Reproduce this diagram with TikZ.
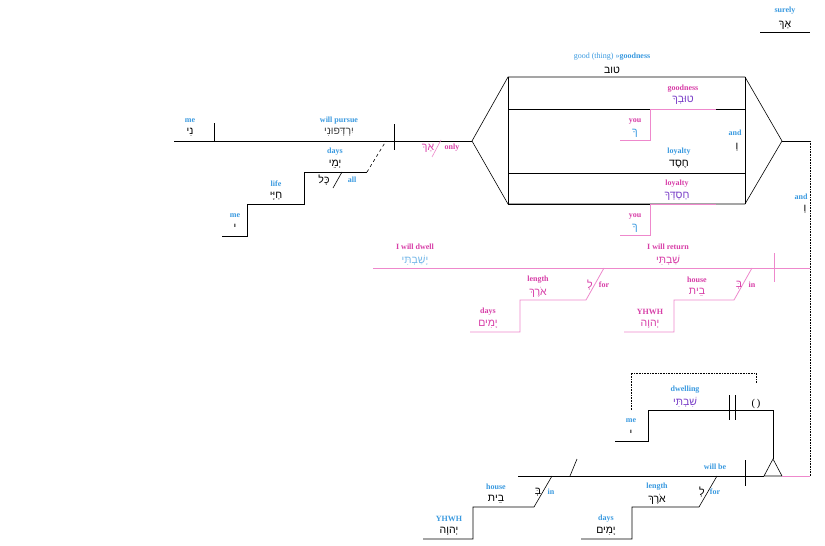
\documentclass[tikz,border=0pt]{standalone}
\usepackage{fontspec}
\setmainfont{Liberation Serif}
\newfontfamily\heb[Script=Hebrew]{Liberation Sans}
\TeXXeTstate=1
\newcommand{\hb}[1]{{\heb\beginR #1\endR}}
\definecolor{eb}{HTML}{3A9AE0}
\definecolor{em}{HTML}{D83FA8}
\definecolor{pk}{HTML}{EE88CC}
\definecolor{vi}{HTML}{7A3FC8}
\begin{document}
\begin{tikzpicture}[x=1pt,y=-1pt,
  en/.style={font=\bfseries\fontsize{8}{9}\selectfont,inner sep=0pt},
  b/.style={en,text=eb}, m/.style={en,text=em},
  h/.style={font=\fontsize{10.5}{11}\selectfont,inner sep=0pt},
  ln/.style={line width=0.6pt}, pl/.style={line width=0.8pt,draw=pk}]
\useasboundingbox[fill=white] (0,0) rectangle (825,546);
% surely
\node[b] (surely) at (785,11) {surely};
\node[h] (ak1) at (785,25) {\hb{אַךְ}};
\draw[ln] (760,32) -- (810,32);
% main clause
\draw[ln] (174,141) -- (472,141);
\draw[ln] (214,123) -- (214,141);
\draw[ln] (394,124) -- (394,150);
\node[b] (me1) at (190,121) {me};
\node[h] (ni) at (190,132) {\hb{נִי}};
\node[b] (wp) at (339,121) {will pursue};
\node[h,text=black!75] (yird) at (339,132) {\hb{יִרְדְּפוּנִי}};
\draw[ln,dashed] (367,172) -- (386,141);
\draw[ln] (367,172) -- (304,172) -- (304,204) -- (247,204) -- (247,236) -- (222,236);
\node[b] (days1) at (335,152) {days};
\node[h] (yeme) at (335,164) {\hb{יְמֵי}};
\draw[ln] (333,188) -- (342,172);
\node[h] (kol) at (324,180) {\hb{כָּל}};
\node[b] (all) at (352,180) {all};
\node[b] (life) at (276,184) {life};
\node[h] (hay) at (276,196) {\hb{חַיָּי}};
\node[b] (me2) at (235,216) {me};
\node[h] (yod1) at (235,227) {\hb{י}};
% ak only
\node[h,text=em] (ak2) at (428,148) {\hb{אַךְ}};
\draw[pk,line width=0.6pt] (432,157) -- (441,140);
\node[m] (only) at (452,148) {only};
% compound box
\draw[ln] (472,141) -- (508,77) -- (745,77) -- (782,141) -- (745,204) -- (508,204) -- cycle;
\draw[ln] (508,77) -- (508,204);
\draw[ln] (745,77) -- (745,204);
\draw[ln] (508,109) -- (650,109);
\draw[pl] (650,109) -- (716,109);
\draw[ln] (716,109) -- (745,109);
\draw[ln] (508,173) -- (745,173);
\draw[ln] (508,204) -- (650,204);
\draw[pl] (650,204) -- (716,204);
\draw[pl] (650,109) -- (650,140) -- (620,140);
\draw[pl] (650,204) -- (650,235) -- (620,235);
\node[b] (good) at (612,57) {\mdseries good (thing) \textgreater\textgreater\bfseries goodness};
\node[h] (tov) at (612,70) {\hb{טוב}};
\node[m] (goodn) at (683,89) {goodness};
\node[h,text=vi] (tovk) at (683,100) {\hb{טוּבְךָ}};
\node[m] (you1) at (635,121) {you};
\node[h,text=eb] (k1) at (635,133) {\hb{ךָ}};
\node[b] (and1) at (735,133) {and};
\node[h] (w1) at (737,147) {\hb{וְ}};
\node[b] (loy1) at (679,152) {loyalty};
\node[h] (hesed) at (679,164) {\hb{חֶסֶד}};
\node[m] (loy2) at (677,184) {loyalty};
\node[h,text=vi] (hasd) at (677,196) {\hb{חַסְדְּךָ}};
\node[m] (you2) at (635,216) {you};
\node[h,text=eb] (k2) at (635,228) {\hb{ךָ}};
% connection
\draw[ln] (782,141) -- (810,141);
\draw[ln,densely dotted] (810,141) -- (810,476);
\node[b] (and2) at (801,197) {and};
\node[h] (w2) at (805,209) {\hb{וְ}};
% magenta alternative
\draw[pl] (373,268) -- (810,268);
\draw[pl] (774,253) -- (774,282);
\node[m] (dwell) at (415,247) {I will dwell};
\node[h,text=eb!70] (yash) at (415,260) {\hb{יָשַׁבְתִּי}};
\node[m] (ret) at (668,247) {I will return};
\node[h,text=em] (shav) at (668,260) {\hb{שַׁבְתִּי}};
\draw[pl] (604,268) -- (586,300) -- (520,300) -- (520,332) -- (470,332);
\node[m] (len1) at (538,280) {length};
\node[h,text=em] (orekh1) at (538,292) {\hb{אֹרֶךְ}};
\node[h,text=em] (l1) at (590,285) {\hb{לְ}};
\node[m] (for1) at (604,285) {for};
\node[m] (days2) at (488,312) {days};
\node[h,text=em] (yamim1) at (488,324) {\hb{יָמִים}};
\draw[pl] (752,268) -- (734,300) -- (674,300) -- (674,332) -- (624,332);
\node[m] (house1) at (697,280) {house};
\node[h,text=em] (b1) at (739,285) {\hb{בְּ}};
\node[h,text=em] (bet1) at (697,292) {\hb{בֵית}};
\node[m] (in1) at (752,285) {in};
\node[m] (yhwh1) at (650,312) {YHWH};
\node[h,text=em] (yhvh1) at (650,324) {\hb{יְהוָה}};
% bottom clause
\draw[ln,densely dotted] (631,410) -- (631,373) -- (756,373) -- (756,383);
\node[h] (par) at (756,404) {(\,)};
\draw[ln] (773,459) -- (773,410) -- (648,410) -- (648,441) -- (615,441);
\draw[ln] (729,395) -- (729,420);
\draw[ln] (735,395) -- (735,420);
\node[b] (dwl) at (685,390) {dwelling};
\node[h,text=vi] (shivt) at (685,402) {\hb{שִׁבְתִּי}};
\node[b] (me3) at (631,421) {me};
\node[h] (yod2) at (631,433) {\hb{י}};
\draw[ln] (773,459) -- (764,476) -- (782,476) -- cycle;
\draw[ln] (518,476) -- (764,476);
\draw[pl] (782,476) -- (810,476);
\draw[ln] (745,460) -- (745,486);
\draw[ln] (570,476) -- (577,459);
\node[b] (willbe) at (715,467) {will be};
\draw[ln] (552,476) -- (534,507) -- (473,507) -- (473,539) -- (423,539);
\node[b] (house2) at (496,487) {house};
\node[h] (bet2) at (496,499) {\hb{בֵית}};
\node[h] (b2) at (538,492) {\hb{בְּ}};
\node[b] (in2) at (551,492) {in};
\node[b] (yhwh2) at (449,519) {YHWH};
\node[h] (yhvh2) at (449,531) {\hb{יְהוָה}};
\draw[ln] (717,476) -- (699,507) -- (632,507) -- (632,539) -- (581,539);
\node[b] (len2) at (657,487) {length};
\node[h] (orekh2) at (657,499) {\hb{אֹרֶךְ}};
\node[h] (l2) at (702,492) {\hb{לְ}};
\node[b] (for2) at (715,492) {for};
\node[b] (days3) at (606,519) {days};
\node[h] (yamim2) at (606,531) {\hb{יָמִים}};
\end{tikzpicture}
\end{document}
